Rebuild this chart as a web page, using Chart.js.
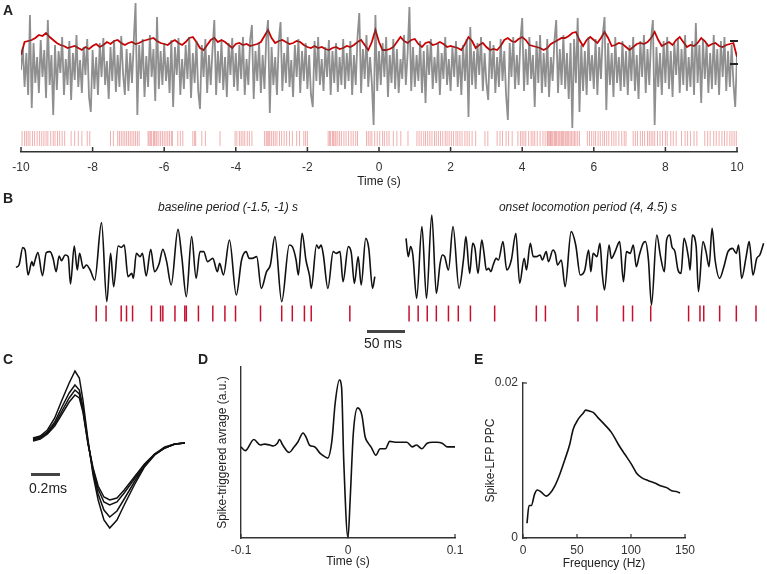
<!DOCTYPE html>
<html>
<head>
<meta charset="utf-8">
<script src="https://cdn.jsdelivr.net/npm/chart.js@4.4.1/dist/chart.umd.min.js"></script>
<style>
body { margin: 0; background: #fff; }
#fig { position: relative; width: 767px; height: 574px; overflow: hidden; font-family: "Liberation Sans", Arial, sans-serif; color: #222; }
#fig canvas { position: absolute; }
.lab { position: absolute; white-space: nowrap; transform: translate(-50%, -50%); }
.letter { position: absolute; font-weight: bold; font-size: 14px; line-height: 16px; }
.bar { position: absolute; background: #444; }
</style>
</head>
<body>
<div id="fig">
  <canvas id="chartA" width="767" height="190" style="left:0;top:0"></canvas>
  <canvas id="chartBL" width="383" height="140" style="left:0;top:200px"></canvas>
  <canvas id="chartBR" width="384" height="140" style="left:383px;top:200px"></canvas>
  <canvas id="chartC" width="172" height="177" style="left:23px;top:361px"></canvas>
  <canvas id="chartD" width="290" height="215" style="left:190px;top:355px"></canvas>
  <canvas id="chartE" width="297" height="209" style="left:470px;top:365px"></canvas>

  <div class="letter" style="left:3px;top:2px">A</div>
  <div class="letter" style="left:3px;top:190px">B</div>
  <div class="letter" style="left:3px;top:351px">C</div>
  <div class="letter" style="left:198px;top:351px">D</div>
  <div class="letter" style="left:474px;top:351px">E</div>

  <!-- amplitude marker at right end of A -->
  <div class="bar" style="left:730px;top:40px;width:8px;height:1.5px;background:#222"></div>
  <div class="bar" style="left:730px;top:63px;width:8px;height:1.5px;background:#222"></div>

  <div class="lab" style="left:228px;top:207px;font-size:12px;font-style:italic">baseline period (-1.5, -1) s</div>
  <div class="lab" style="left:588px;top:207px;font-size:12px;font-style:italic">onset locomotion period (4, 4.5) s</div>
  <div class="bar" style="left:367px;top:330px;width:38px;height:3px"></div>
  <div class="lab" style="left:383px;top:343px;font-size:14px">50 ms</div>

  <div class="bar" style="left:31px;top:473px;width:29px;height:3px"></div>
  <div class="lab" style="left:48px;top:488px;font-size:14px">0.2ms</div>
</div>
<script>
// ---- panel A: LFP trace (every 0.05 s), envelope (every 0.1 s), spike raster
var lfpRaw = [
  -5, 18, -22, 12, -30, 50, -43, 22, -18, 8, -28, 25, -12, 15, -33, 45, -20, 10, -50, 20,
  -25, 14, -8, 28, -30, 6, -20, 24, -35, 12, -15, 30, -22, 5, -28, 18, -10, 26, -32, -47,
  15, -24, 8, -30, 22, -12, 27, -20, 4, -34, 18, -16, 25, -27, 10, -22, 29, -8, -30, 16,
  -26, 12, -18, 24, 62, -50, 20, -14, 26, -32, 9, -22, 30, -12, 16, -36, 48, -24, 14, -20,
  22, -16, 8, -28, 25, -42, 18, -10, 27, -30, 6, -24, 20, -14, 28, -33, 12, -18, 24, -26,
  -44, 20, -12, 26, -28, 10, -20, 16, 45, -30, 14, -18, 24, -25, 8, -32, 22, -10, 27, -22,
  12, -26, 20, -14, 28, -30, 6, -20, 25, 40, -34, 14, -16, 22, -28, 10, -24, 26, 45, -48,
  18, -20, 8, -30, 24, 43, -26, 12, -18, 28, -22, 5, -32, 20, -12, 26, -28, 14, -16, 22,
  -24, 10, -30, -42, 24, -16, 28, -20, 6, -26, 18, -12, 25, -30, 14, -18, 22, -27, 8, -20,
  26, -24, 12, -16, 24, -30, 10, -20, 28, 52, -28, 16, -14, 30, -22, 8, -18, -60, 50, -26,
  14, -20, 22, -12, 28, -32, 10, -18, 26, -24, 16, -28, 6, -14, 30, -20, 12, 58, -26, 18,
  -22, 10, -16, 24, -28, 14, -38, 20, -10, 26, -24, 8, -18, 22, -30, 12, -14, 28, -20, 6,
  -26, 18, -12, 24, -22, 10, -30, 20, -16, 26, -52, 38, -20, 14, -24, 22, -10, 28, -26, 12,
  -18, -35, 24, -14, 20, -28, 8, -22, 26, -16, 14, -30, -55, 22, -12, 28, -24, 10, -20, 25,
  47, -26, 16, -20, 28, -14, 10, -42, 24, -18, 30, -28, 12, -22, 26, -32, 8, -16, 24, 45,
  -28, 16, -20, 30, -24, 12, -34, 22, -63, 26, -18, 47, -47, 20, -26, 14, -30, 28, -16, 10,
  -24, 26, -30, 18, -14, 30, 48, -45, 22, -20, 12, -32, 28, -18, 8, -26, 24, -22, 14, -30,
  20, -16, 28, -26, 10, -34, 24, -12, 30, -28, 16, -20, 26, 45, -60, 18, -22, 12, -30, 24,
  -18, 28, -24, 14, -32, 22, -10, 26, -28, 16, -20, 30, -26, 8, -22, 24, -30, 42, -18, 20,
  -38, 26, -14, 22, -28, 12, -24, 30, -20, 16, -30, 24, -12, 28, -26, 14, -22, 20, -18, -42,
  10
];
var lfpEnvelope = [
  10, 23, 24, 25, 27, 30, 29, 32, 28, 25,
  22, 20, 19, 17, 18, 19, 17, 15, 18, 16,
  19, 21, 18, 20, 23, 21, 24, 25, 22, 20,
  22, 23, 21, 22, 24, 25, 26, 27, 24, 22,
  21, 20, 23, 25, 22, 20, 23, 27, 28, 23,
  17, 15, 20, 25, 27, 23, 25, 23, 20, 17,
  21, 22, 20, 21, 19, 20, 21, 23, 29, 35,
  27, 22, 24, 25, 23, 21, 22, 24, 23, 20,
  18, 17, 19, 17, 18, 16, 15, 17, 18, 16,
  17, 19, 18, 20, 23, 25, 20, 15, 23, 35,
  23, 15, 15, 16, 18, 23, 28, 24, 22, 25,
  26, 21, 18, 22, 23, 20, 21, 23, 21, 18,
  19, 18, 17, 15, 21, 28, 24, 17, 20, 22,
  18, 15, 16, 15, 19, 25, 27, 24, 23, 26,
  28, 25, 20, 19, 18, 17, 15, 17, 21, 23,
  25, 27, 27, 29, 32, 33, 25, 19, 25, 28,
  25, 22, 27, 33, 27, 19, 20, 22, 21, 18,
  15, 18, 21, 22, 21, 23, 27, 33, 25, 19,
  21, 23, 20, 25, 28, 23, 18, 20, 19, 22,
  27, 24, 19, 21, 22, 19, 18, 20, 21, 22,
  8
];
var rasterTimes = [
  -9.97, -9.9, -9.85, -9.8, -9.75, -9.68, -9.62, -9.55, -9.48, -9.42, -9.36, -9.3, -9.25, -9.17, -9.1, -9.05, -8.98, -8.92, -8.85, -8.78,
  -8.6, -8.5, -8.4, -8.3, -8.15, -8.08, -7.5, -7.42,
  -7.3, -7.25, -7.2, -7.15, -7.1, -7.05, -7.0, -6.95, -6.9, -6.85, -6.8, -6.75, -6.7,
  -6.45, -6.42, -6.38, -6.35, -6.3, -6.27, -6.23, -6.2, -6.15, -6.1, -6.05, -6.0, -5.95, -5.9, -5.85, -5.8, -5.77,
  -5.62, -5.55, -5.48, -5.2, -5.15, -5.12, -4.95, -4.85, -4.44,
  -4.02, -3.97, -3.9, -3.85, -3.8, -3.75, -3.68, -3.62, -3.55,
  -3.2, -3.15, -3.12, -3.08, -3.05, -3.0, -2.95, -2.9, -2.85,
  -2.78, -2.72, -2.65, -2.58, -2.5, -2.42, -2.3, -2.22, -2.1, -2.05, -2.0,
  -1.42, -1.38, -1.35, -1.3, -1.27, -1.23, -1.2, -1.15, -1.1, -1.05, -0.98, -0.92, -0.85, -0.78, -0.72, -0.65, -0.6,
  -0.35, -0.3, -0.25, -0.2, -0.12, -0.05, 0.02, 0.1, 0.15, 0.22, 0.28, 0.4, 0.5, 0.61, 0.81,
  1.06, 1.12, 1.18, 1.25, 1.3, 1.36, 1.42, 1.48, 1.55, 1.6, 1.66, 1.72, 1.78, 1.85, 1.9, 1.96, 2.02, 2.08, 2.15, 2.2, 2.26, 2.32, 2.4, 2.46, 2.52, 2.6, 2.7,
  2.96, 3.04, 3.3, 3.38, 3.45, 3.55, 3.62, 3.72,
  3.88, 3.95, 4.0, 4.05, 4.1, 4.18, 4.25, 4.3, 4.35, 4.42, 4.5, 4.58, 4.64,
  4.7, 4.72, 4.75, 4.78, 4.8, 4.83, 4.86, 4.9, 4.93, 4.96, 5.0, 5.03, 5.06, 5.1, 5.13, 5.16, 5.2, 5.23, 5.27, 5.3, 5.34, 5.38, 5.42, 5.46, 5.5, 5.55, 5.6,
  5.82, 5.88, 5.94, 6.0, 6.05, 6.12, 6.18, 6.25, 6.3, 6.36, 6.42, 6.5, 6.56, 6.62, 6.7, 6.78, 6.85, 6.9,
  7.1, 7.16, 7.22, 7.3, 7.36, 7.42, 7.5, 7.55, 7.6, 7.65, 7.7, 7.78, 7.85, 7.92, 8.0, 8.05,
  8.15, 8.22, 8.3, 8.45, 8.55, 8.62, 8.7, 8.8, 8.88,
  9.1, 9.18, 9.25, 9.35, 9.42, 9.5, 9.58, 9.65, 9.72, 9.8, 9.86, 9.92, 9.98
];
var timeTicksA = [-10, -8, -6, -4, -2, 0, 2, 4, 6, 8, 10];

// ---- panel B: filtered LFP (ms, a.u.) and spikes (ms)
var baseTime = [0, 4, 9, 12, 16, 21, 23, 25, 29, 35, 40, 45, 49, 53, 57, 60, 65, 69, 72, 77, 81, 84, 89, 93, 98, 104, 113, 120, 125, 129, 135, 139, 143, 148, 153, 155, 159, 164, 167, 172, 178, 183, 189, 194, 199, 205, 214, 219, 225, 232, 238, 243, 248, 253, 260, 266, 269, 274, 282, 291, 298, 304, 308, 312, 318, 324, 331, 336, 342, 351, 361, 365, 370, 373, 378, 383, 388, 390, 397, 400, 403, 406, 412, 419, 423, 428, 432, 439, 443, 447, 452, 456, 462, 466, 471, 474];
var baseLfp = [-13, -6, 46, 39, -36, 4, -9, 7, 31, -38, 31, 34, 14, -26, 21, 7, 24, 19, -63, 51, -21, 29, -16, -6, -21, -51, 121, -116, 29, -71, 51, 47, 54, -41, -31, -46, 29, 19, 29, -39, 41, -26, -3, 41, 4, -66, 101, 19, -101, 79, -46, 34, 34, 4, 14, -26, -1, -36, 69, -96, 9, 34, 14, 14, 19, -76, -26, -6, 79, -116, 54, 49, 9, -36, 89, 9, -41, -76, 54, 44, 54, 24, -76, 34, 29, 34, -56, 49, 29, -61, 19, -66, 74, 44, -76, -41];
var baseSpikes = [106, 119, 139, 146, 154, 179, 191, 194, 210, 223, 225, 241, 260, 276, 290, 323, 351, 365, 381, 390, 441];

var onsetTime = [0, 3, 6, 9, 14, 21, 27, 34, 40, 45, 48, 51, 56, 62, 70, 76, 79, 84, 88, 91, 95, 100, 103, 106, 109, 112, 115, 119, 122, 128, 133, 139, 145, 150, 156, 159, 164, 168, 172, 177, 180, 185, 188, 194, 197, 200, 205, 210, 218, 224, 230, 236, 241, 244, 247, 252, 256, 259, 262, 268, 271, 276, 282, 287, 291, 296, 300, 304, 308, 313, 316, 320, 324, 331, 336, 341, 344, 348, 351, 355, 359, 363, 367, 373, 375, 378, 383, 386, 392, 396, 400, 404, 408, 414, 419, 425, 431, 436, 439, 443, 449, 453, 458, 463, 467, 472];
var onsetLfp = [74, 19, 49, 24, -106, 109, -106, 144, -91, -1, 24, 19, -21, 109, -76, 14, 79, -31, 59, 44, -31, 69, 29, -21, -16, -26, -6, 14, 9, 64, -21, 9, 89, -61, 14, -21, 59, 19, 19, 24, 9, 34, 4, 39, 29, -6, 9, -71, 94, 54, -36, -21, 39, -26, 29, 19, 59, -31, -81, 54, 14, 34, 64, -56, 34, 29, 54, -11, 24, 59, 64, 9, -126, 84, 19, -26, 69, 84, 49, 34, -21, -31, 74, 14, -21, 84, 49, -86, 64, 34, -11, 104, 9, -46, -16, 34, 44, 29, 54, -46, 19, 64, -36, 14, 24, 59];
var onsetSpikes = [4, 16, 28, 40, 56, 69, 85, 117, 172, 184, 227, 252, 287, 299, 323, 373, 388, 393, 414, 436, 462];

// ---- panel C: spike waveforms (ms, uV)
var waveTime = [0, 0.05, 0.1, 0.15, 0.2, 0.25, 0.29, 0.32, 0.345, 0.38, 0.415, 0.45, 0.49, 0.53, 0.58, 0.63, 0.7, 0.77, 0.84, 0.91, 0.98, 1.05];
var wave1 = [4, 6, 12, 24, 42, 59, 71, 64, 42, 2, -33, -58, -78, -86, -78, -63, -43, -25, -13, -6, -2, -1];
var wave2 = [3, 5, 10, 20, 35, 49, 57, 52, 35, 0, -30, -52, -68, -75, -69, -57, -40, -24, -13, -6, -2, -1];
var wave3 = [2, 4, 9, 18, 31, 44, 52, 48, 32, -1, -28, -47, -60, -63, -60, -51, -37, -23, -12, -6, -2, -1];
var wave4 = [1, 3, 8, 16, 28, 40, 47, 44, 30, -2, -26, -44, -55, -58, -56, -48, -35, -22, -12, -5, -2, -1];

// ---- panel D: spike-triggered average
var staTime = [-0.1, -0.096, -0.088, -0.082, -0.078, -0.073, -0.07, -0.066, -0.064, -0.061, -0.055, -0.051, -0.047, -0.042, -0.039, -0.036, -0.031, -0.026, -0.021, -0.019, -0.015, -0.012, -0.008, -0.006, -0.004, 0, 0.002, 0.005, 0.009, 0.013, 0.016, 0.019, 0.022, 0.026, 0.03, 0.035, 0.039, 0.044, 0.049, 0.055, 0.06, 0.064, 0.069, 0.074, 0.079, 0.083, 0.088, 0.093, 0.1];
var staValue = [-2, -6, 6, 0, 1, 0, -1, 2, 6, 0, -8, -3, 3, 13, 8, 0, -2, -9, -13, -14, 5, 45, 70, 62, -16, -100, -59, 13, 40, 32, 9, 2, -3, -11, -4, -4, 4, 3, 3, 3, -2, 0, -4, 2, 3, 3, 2, -2, -2];

// ---- panel E: spike-LFP PPC spectrum
var ppcFreq = [3.7, 5.6, 7.7, 10.8, 13.3, 17, 21.6, 24.7, 29.4, 34, 38.7, 43.3, 46.4, 51, 55.7, 58.1, 61.2, 65, 69.6, 75.8, 82, 88.2, 94.3, 100.5, 105, 109.8, 116, 122, 128, 133, 137.6, 142, 145.4];
var ppcValue = [0.0019, 0.0042, 0.0042, 0.0057, 0.0062, 0.0059, 0.0054, 0.0057, 0.0067, 0.0082, 0.0101, 0.0121, 0.014, 0.0153, 0.0161, 0.0165, 0.0164, 0.0162, 0.0155, 0.0146, 0.0136, 0.0121, 0.0108, 0.0095, 0.0084, 0.0078, 0.0074, 0.0071, 0.0067, 0.0065, 0.0061, 0.006, 0.0058];

Chart.defaults.font.family = '"Liberation Sans", Arial, sans-serif';
Chart.defaults.font.size = 12;
Chart.defaults.color = '#222';
Chart.defaults.animation = false;
Chart.defaults.responsive = false;
Chart.defaults.layout.autoPadding = false;
Chart.defaults.plugins.legend.display = false;
Chart.defaults.plugins.tooltip.enabled = false;
Chart.defaults.elements.point.radius = 0;

// matlab style ticks drawn inside the axes
const inTicks = {
    id: 'inTicks',
    afterDraw(chart, args, opts) {
        const ctx = chart.ctx;
        ctx.save();
        ctx.strokeStyle = opts.color;
        ctx.lineWidth = opts.width;
        opts.axes.forEach(function (id) {
            const s = chart.scales[id];
            s.ticks.forEach(function (t) {
                const p = s.getPixelForValue(t.value);
                ctx.beginPath();
                if (s.isHorizontal()) {
                    ctx.moveTo(p, s.top);
                    ctx.lineTo(p, s.top - opts.len);
                } else {
                    ctx.moveTo(s.right, p);
                    ctx.lineTo(s.right + opts.len, p);
                }
                ctx.stroke();
            });
        });
        ctx.restore();
    }
};

function pairs(xs, ys) {
    return ys.map(function (y, i) { return { x: xs[i], y: y }; });
}
function spikeSet(times, level, color, radius, width) {
    return {
        data: times.map(function (t) { return { x: t, y: level }; }),
        showLine: false,
        pointStyle: 'line',
        rotation: 90,
        pointRadius: radius,
        pointBorderColor: color,
        pointBorderWidth: width,
        borderColor: color
    };
}
function hiddenScale(min, max) {
    return { type: 'linear', display: false, min: min, max: max };
}

// ---- A
new Chart(document.getElementById('chartA'), {
    type: 'line',
    plugins: [inTicks],
    data: {
        datasets: [
            {
                data: lfpRaw.map(function (v, i) { return { x: -10 + i * 0.05, y: v }; }),
                borderColor: 'rgba(75,75,75,0.62)',
                borderWidth: 1.8
            },
            {
                data: lfpEnvelope.map(function (v, i) { return { x: -10 + i * 0.1, y: v }; }),
                borderColor: '#cc0000',
                borderWidth: 1.8
            },
            spikeSet(rasterTimes, -73.5, 'rgba(215,45,45,0.38)', 7.5, 1)
        ]
    },
    options: {
        layout: { padding: { left: 21, right: 30, top: 0, bottom: 0 } },
        plugins: { inTicks: { axes: ['x'], len: 5, color: '#333', width: 1.5 } },
        scales: {
            x: {
                type: 'linear',
                min: -10,
                max: 10,
                afterBuildTicks: function (s) { s.ticks = timeTicksA.map(function (v) { return { value: v }; }); },
                afterFit: function (s) { s.height = 38; },
                grid: { display: false, drawTicks: false },
                border: { color: '#333', width: 1.5 },
                ticks: { padding: 8, color: '#333' },
                title: { display: true, text: 'Time (s)', padding: { top: 0, bottom: 1 } }
            },
            y: hiddenScale(-87, 65)
        }
    }
});

// ---- B
function bChart(id, times, lfp, spikes, min, max) {
    new Chart(document.getElementById(id), {
        type: 'line',
        data: {
            datasets: [
                {
                    data: pairs(times, lfp),
                    borderColor: '#111',
                    borderWidth: 1.6,
                    cubicInterpolationMode: 'monotone',
                    clip: false
                },
                spikeSet(spikes, -151.5, '#c8102e', 8, 1.5)
            ]
        },
        options: {
            layout: { padding: 0 },
            scales: { x: hiddenScale(min, max), y: hiddenScale(-231, 189) }
        }
    });
}
bChart('chartBL', baseTime, baseLfp, baseSpikes, -21.1, 484.8);
bChart('chartBR', onsetTime, onsetLfp, onsetSpikes, -30.4, 476.5);

// ---- C
new Chart(document.getElementById('chartC'), {
    type: 'line',
    data: {
        datasets: [wave1, wave2, wave3, wave4].map(function (w) {
            return { data: pairs(waveTime, w), borderColor: '#111', borderWidth: 1.5, clip: false };
        })
    },
    options: {
        layout: { padding: 10 },
        scales: { x: hiddenScale(0, 1.05), y: hiddenScale(-86, 71) }
    }
});

// ---- D
new Chart(document.getElementById('chartD'), {
    type: 'line',
    plugins: [inTicks],
    data: {
        datasets: [{
            data: pairs(staTime, staValue),
            borderColor: '#111',
            borderWidth: 1.6,
            cubicInterpolationMode: 'monotone',
            clip: false
        }]
    },
    options: {
        layout: { padding: { left: 0, right: 25, top: 12, bottom: 0 } },
        plugins: { inTicks: { axes: ['x'], len: 4, color: '#333', width: 1.2 } },
        scales: {
            x: {
                type: 'linear',
                min: -0.1,
                max: 0.1,
                ticks: { stepSize: 0.1, padding: 5, color: '#333' },
                afterFit: function (s) { s.height = 32; },
                grid: { display: false, drawTicks: false },
                border: { color: '#333', width: 1.4 },
                title: { display: true, text: 'Time (s)', padding: { top: 0, bottom: 1 } }
            },
            y: {
                type: 'linear',
                min: -100,
                max: 84,
                ticks: { display: false },
                afterFit: function (s) { s.width = 51; },
                grid: { display: false, drawTicks: false },
                border: { color: '#333', width: 1.4 },
                title: { display: true, text: 'Spike-triggered avrage (a.u.)', padding: { top: 25, bottom: 0 } }
            }
        }
    }
});

// ---- E
new Chart(document.getElementById('chartE'), {
    type: 'line',
    plugins: [inTicks],
    data: {
        datasets: [{
            data: pairs(ppcFreq, ppcValue),
            borderColor: '#111',
            borderWidth: 1.6,
            cubicInterpolationMode: 'monotone',
            clip: false
        }]
    },
    options: {
        layout: { padding: { left: 0, right: 82, top: 18, bottom: 0 } },
        plugins: { inTicks: { axes: ['x', 'y'], len: 4, color: '#333', width: 1.2 } },
        scales: {
            x: {
                type: 'linear',
                min: 0,
                max: 150,
                ticks: { stepSize: 50, padding: 5, color: '#333' },
                afterFit: function (s) { s.height = 36; },
                grid: { display: false, drawTicks: false },
                border: { color: '#333', width: 1.4 },
                title: { display: true, text: 'Frequency (Hz)', padding: { top: 0, bottom: 3 } }
            },
            y: {
                type: 'linear',
                min: 0,
                max: 0.02,
                ticks: { stepSize: 0.02, padding: 5, color: '#333' },
                afterFit: function (s) { s.width = 53; },
                grid: { display: false, drawTicks: false },
                border: { color: '#333', width: 1.4 },
                title: { display: true, text: 'Spike-LFP PPC', padding: { top: 13, bottom: 0 } }
            }
        }
    }
});
</script>
</body>
</html>
